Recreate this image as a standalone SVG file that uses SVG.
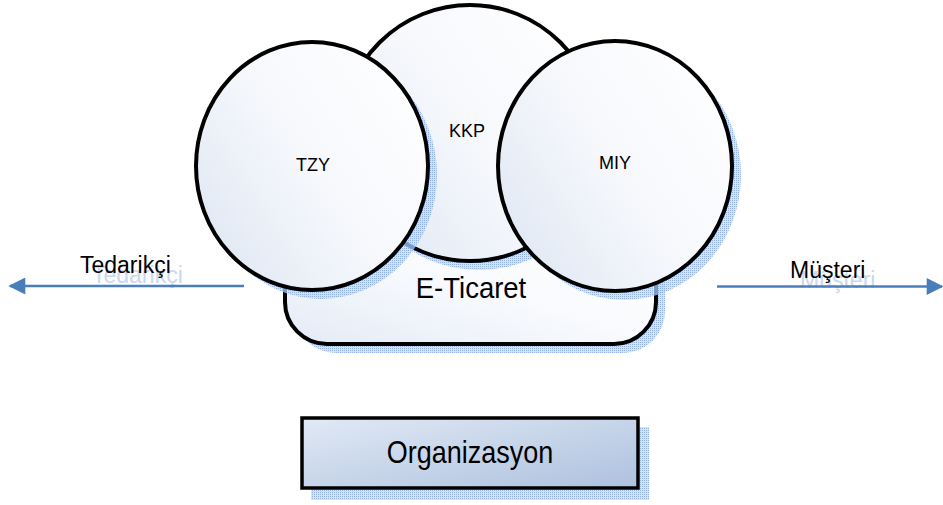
<svg xmlns="http://www.w3.org/2000/svg" width="943" height="505" viewBox="0 0 943 505">
  <defs>
    <style>
      .lbl { font-family: "Liberation Sans", Arial, sans-serif; fill: #000; }
      .shtxt { font-family: "Liberation Sans", Arial, sans-serif; fill: #c9d8ee; }
      .shape { stroke: #000; stroke-width: 4; }
      .shadow { fill: url(#hatch); stroke: none; }
      .conn { stroke: #4a7ebb; stroke-width: 2.5; fill: none; }
    </style>
    <pattern id="hatch" patternUnits="userSpaceOnUse" width="2" height="2">
      <rect width="2" height="2" fill="#c7d6ee" fill-opacity="0.7"/>
      <rect width="1" height="1" fill="#7fa2d6" fill-opacity="0.75"/>
    </pattern>
    <linearGradient id="gCircle" x1="0" y1="0.85" x2="1" y2="0.15">
      <stop offset="0" stop-color="#dfe7f3"/>
      <stop offset="0.5" stop-color="#f6f8fc"/>
      <stop offset="1" stop-color="#ffffff"/>
    </linearGradient>
    <linearGradient id="gRect" x1="0" y1="1" x2="1" y2="0">
      <stop offset="0" stop-color="#e4ebf6"/>
      <stop offset="0.5" stop-color="#f8fafd"/>
      <stop offset="1" stop-color="#ffffff"/>
    </linearGradient>
    <linearGradient id="gOrg" x1="0" y1="0" x2="1" y2="1">
      <stop offset="0" stop-color="#e1e9f5"/>
      <stop offset="1" stop-color="#adc1de"/>
    </linearGradient>
    <marker id="arrow" viewBox="0 0 10 10" refX="9" refY="5" markerUnits="userSpaceOnUse" markerWidth="18" markerHeight="17" orient="auto">
      <path d="M0,0 L10,5 L0,10 Z" fill="#4a7ebb"/>
    </marker>
  </defs>

  <g id="label-tedarikci-shadow">
    <text class="shtxt" x="92" y="283" font-size="23">Tedarikçi</text>
  </g>
  <g id="label-musteri-shadow">
    <text class="shtxt" x="800" y="288" font-size="23">Müşteri</text>
  </g>

  <g id="connectors">
    <line class="conn" x1="244" y1="286" x2="10" y2="286" marker-end="url(#arrow)"/>
    <line class="conn" x1="717" y1="286.5" x2="942" y2="286.5" marker-end="url(#arrow)"/>
  </g>

  <g id="label-tedarikci">
    <text class="lbl" x="80" y="273" font-size="23">Tedarikçi</text>
  </g>
  <g id="label-musteri">
    <text class="lbl" x="790" y="278" font-size="23">Müşteri</text>
  </g>

  <g id="eticaret">
    <rect class="shadow" x="294" y="239" width="371" height="114" rx="42"/>
    <rect class="shape" x="285" y="230" width="371" height="114" rx="42" fill="url(#gRect)"/>
  </g>

  <g id="kkp">
    <circle class="shadow" cx="479" cy="142" r="128"/>
    <circle class="shape" cx="470" cy="133" r="128" fill="url(#gCircle)"/>
    <text class="lbl" x="467" y="137" font-size="18" text-anchor="middle">KKP</text>
  </g>

  <g id="tzy">
    <ellipse class="shadow" cx="321" cy="175" rx="116" ry="124"/>
    <ellipse class="shape" cx="312" cy="166" rx="116" ry="124" fill="url(#gCircle)"/>
    <text class="lbl" x="313" y="171" font-size="18" text-anchor="middle">TZY</text>
  </g>

  <g id="miy">
    <ellipse class="shadow" cx="624" cy="175" rx="117" ry="125"/>
    <ellipse class="shape" cx="615" cy="166" rx="117" ry="125" fill="url(#gCircle)"/>
    <text class="lbl" x="615" y="169" font-size="18" text-anchor="middle">MIY</text>
  </g>

  <g id="eticaret-label">
    <text class="lbl" font-size="27.5" text-anchor="middle" transform="translate(471,298) scale(1,1.07)">E-Ticaret</text>
  </g>

  <g id="organizasyon">
    <rect class="shadow" x="311" y="427" width="338" height="73"/>
    <rect x="302" y="418" width="336" height="70" fill="url(#gOrg)" stroke="#000" stroke-width="3.5"/>
    <text class="lbl" font-size="27" text-anchor="middle" transform="translate(470,463) scale(1,1.15)">Organizasyon</text>
  </g>
</svg>
